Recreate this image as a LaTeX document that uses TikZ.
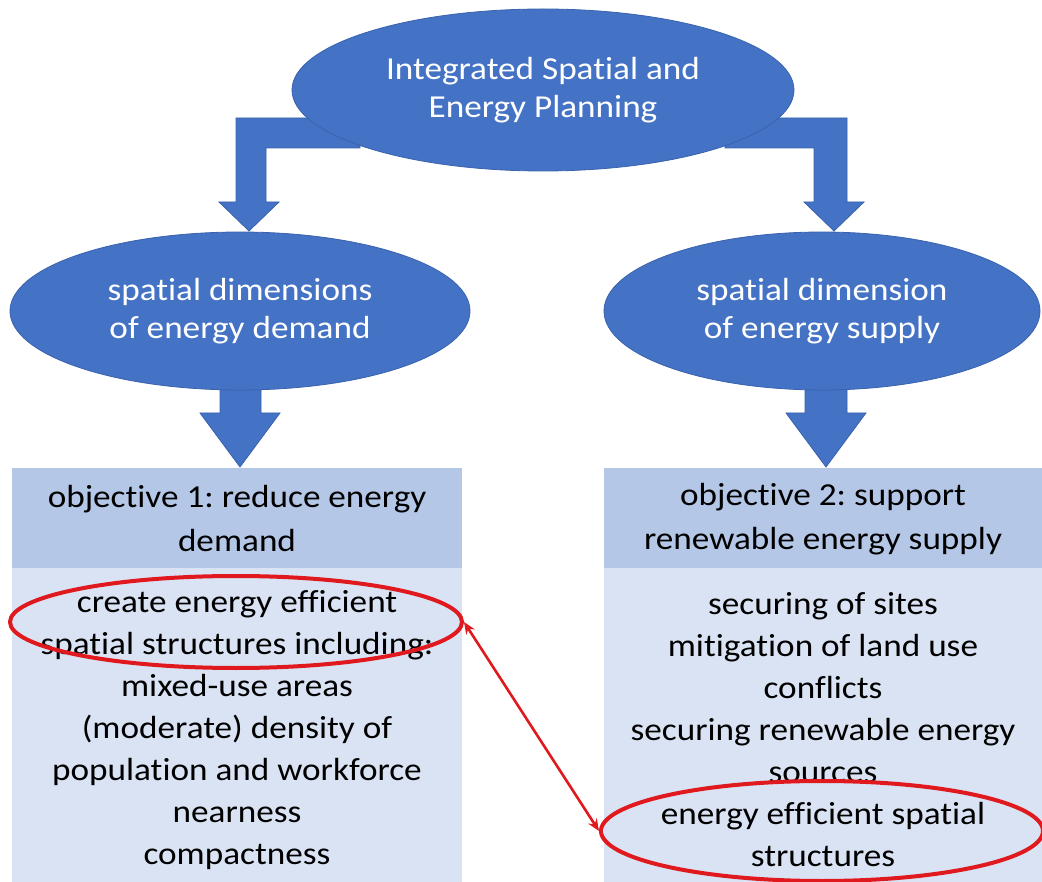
\documentclass[tikz,border=0pt]{standalone}
\usepackage{fontspec}
\setmainfont{Carlito}[Ligatures=NoCommon, FakeStretch=1.1]
\frenchspacing
\usetikzlibrary{arrows.meta,shapes.geometric}
\definecolor{ofblue}{HTML}{4472C4}
\definecolor{ofedge}{HTML}{3A62AE}
\definecolor{hdrblue}{HTML}{B4C7E7}
\definecolor{bodyblue}{HTML}{DAE3F3}
\definecolor{markred}{HTML}{E0191E}
\tikzset{
  bluefill/.style={fill=ofblue, draw=ofedge, line width=0.8pt},
  blob/.style={ellipse, bluefill, inner sep=0pt, text=white, align=center,
    font=\fontsize{32}{38}\selectfont},
  hdrtext/.style={align=center, font=\fontsize{32}{44}\selectfont, inner sep=0pt},
  bodytext/.style={align=center, font=\fontsize{32}{42}\selectfont, inner sep=0pt},
  ring/.style={ellipse, draw=markred, line width=4pt, inner sep=0pt},
  link/.style={draw=markred, line width=2.6pt, {Stealth[length=12pt,width=10pt]}-{Stealth[length=12pt,width=10pt]}}
}
\begin{document}
\begin{tikzpicture}[x=1pt,y=-1pt]
\useasboundingbox (0,0) rectangle (1042,882);
\fill[white] (0,0) rectangle (1042,882);

% objective boxes
\fill[bodyblue] (12,568) rectangle (462,882);
\fill[hdrblue]  (12,468) rectangle (462,568);
\fill[bodyblue] (604,568) rectangle (1042,882);
\fill[hdrblue]  (604,468) rectangle (1042,568);

% elbow block arrows from the top ellipse
\draw[bluefill] (360,118) -- (236,118) -- (236,202) -- (219,202) -- (249,231)
  -- (279,202) -- (266,202) -- (266,148) -- (360,148) -- cycle;
\draw[bluefill] (725,118) -- (847,118) -- (847,202) -- (864,202) -- (834,231)
  -- (804,202) -- (814,202) -- (814,148) -- (725,148) -- cycle;

% straight block arrows down to the boxes
\draw[bluefill] (220,370) -- (220,413) -- (200,413) -- (240,467) -- (280,413)
  -- (261,413) -- (261,370) -- cycle;
\draw[bluefill] (805,370) -- (805,413) -- (786,413) -- (826,467) -- (866,413)
  -- (847,413) -- (847,370) -- cycle;

% ellipses
\node[blob, minimum width=502pt, minimum height=162pt] (top) at (543,90)
  {Integrated Spatial and\\Energy Planning};
\node[blob, minimum width=460pt, minimum height=158pt] (demand) at (240,311)
  {spatial dimensions\\of energy demand};
\node[blob, minimum width=436pt, minimum height=158pt] (supply) at (822,311)
  {spatial dimension\\of energy supply};

% box texts
\node[hdrtext] (obj1) at (237,519) {objective 1: reduce energy\\demand};
\node[hdrtext] (obj2) at (823,519) {objective 2: support\\renewable energy supply};
\node[bodytext] (list1) at (237,730) {create energy efficient\\spatial structures including:\\mixed-use areas\\(moderate) density of\\population and workforce\\nearness\\compactness};
\node[bodytext] (list2) at (823,730) {securing of sites\\mitigation of land use\\conflicts\\securing renewable energy\\sources\\energy efficient spatial\\structures};

% red highlights
\node[ring, minimum width=452pt, minimum height=92pt] (ringL) at (236,622) {};
\node[ring, minimum width=442pt, minimum height=100pt] (ringR) at (822,831) {};
\draw[link] (ringL.east) -- (ringR.west);
\end{tikzpicture}
\end{document}
